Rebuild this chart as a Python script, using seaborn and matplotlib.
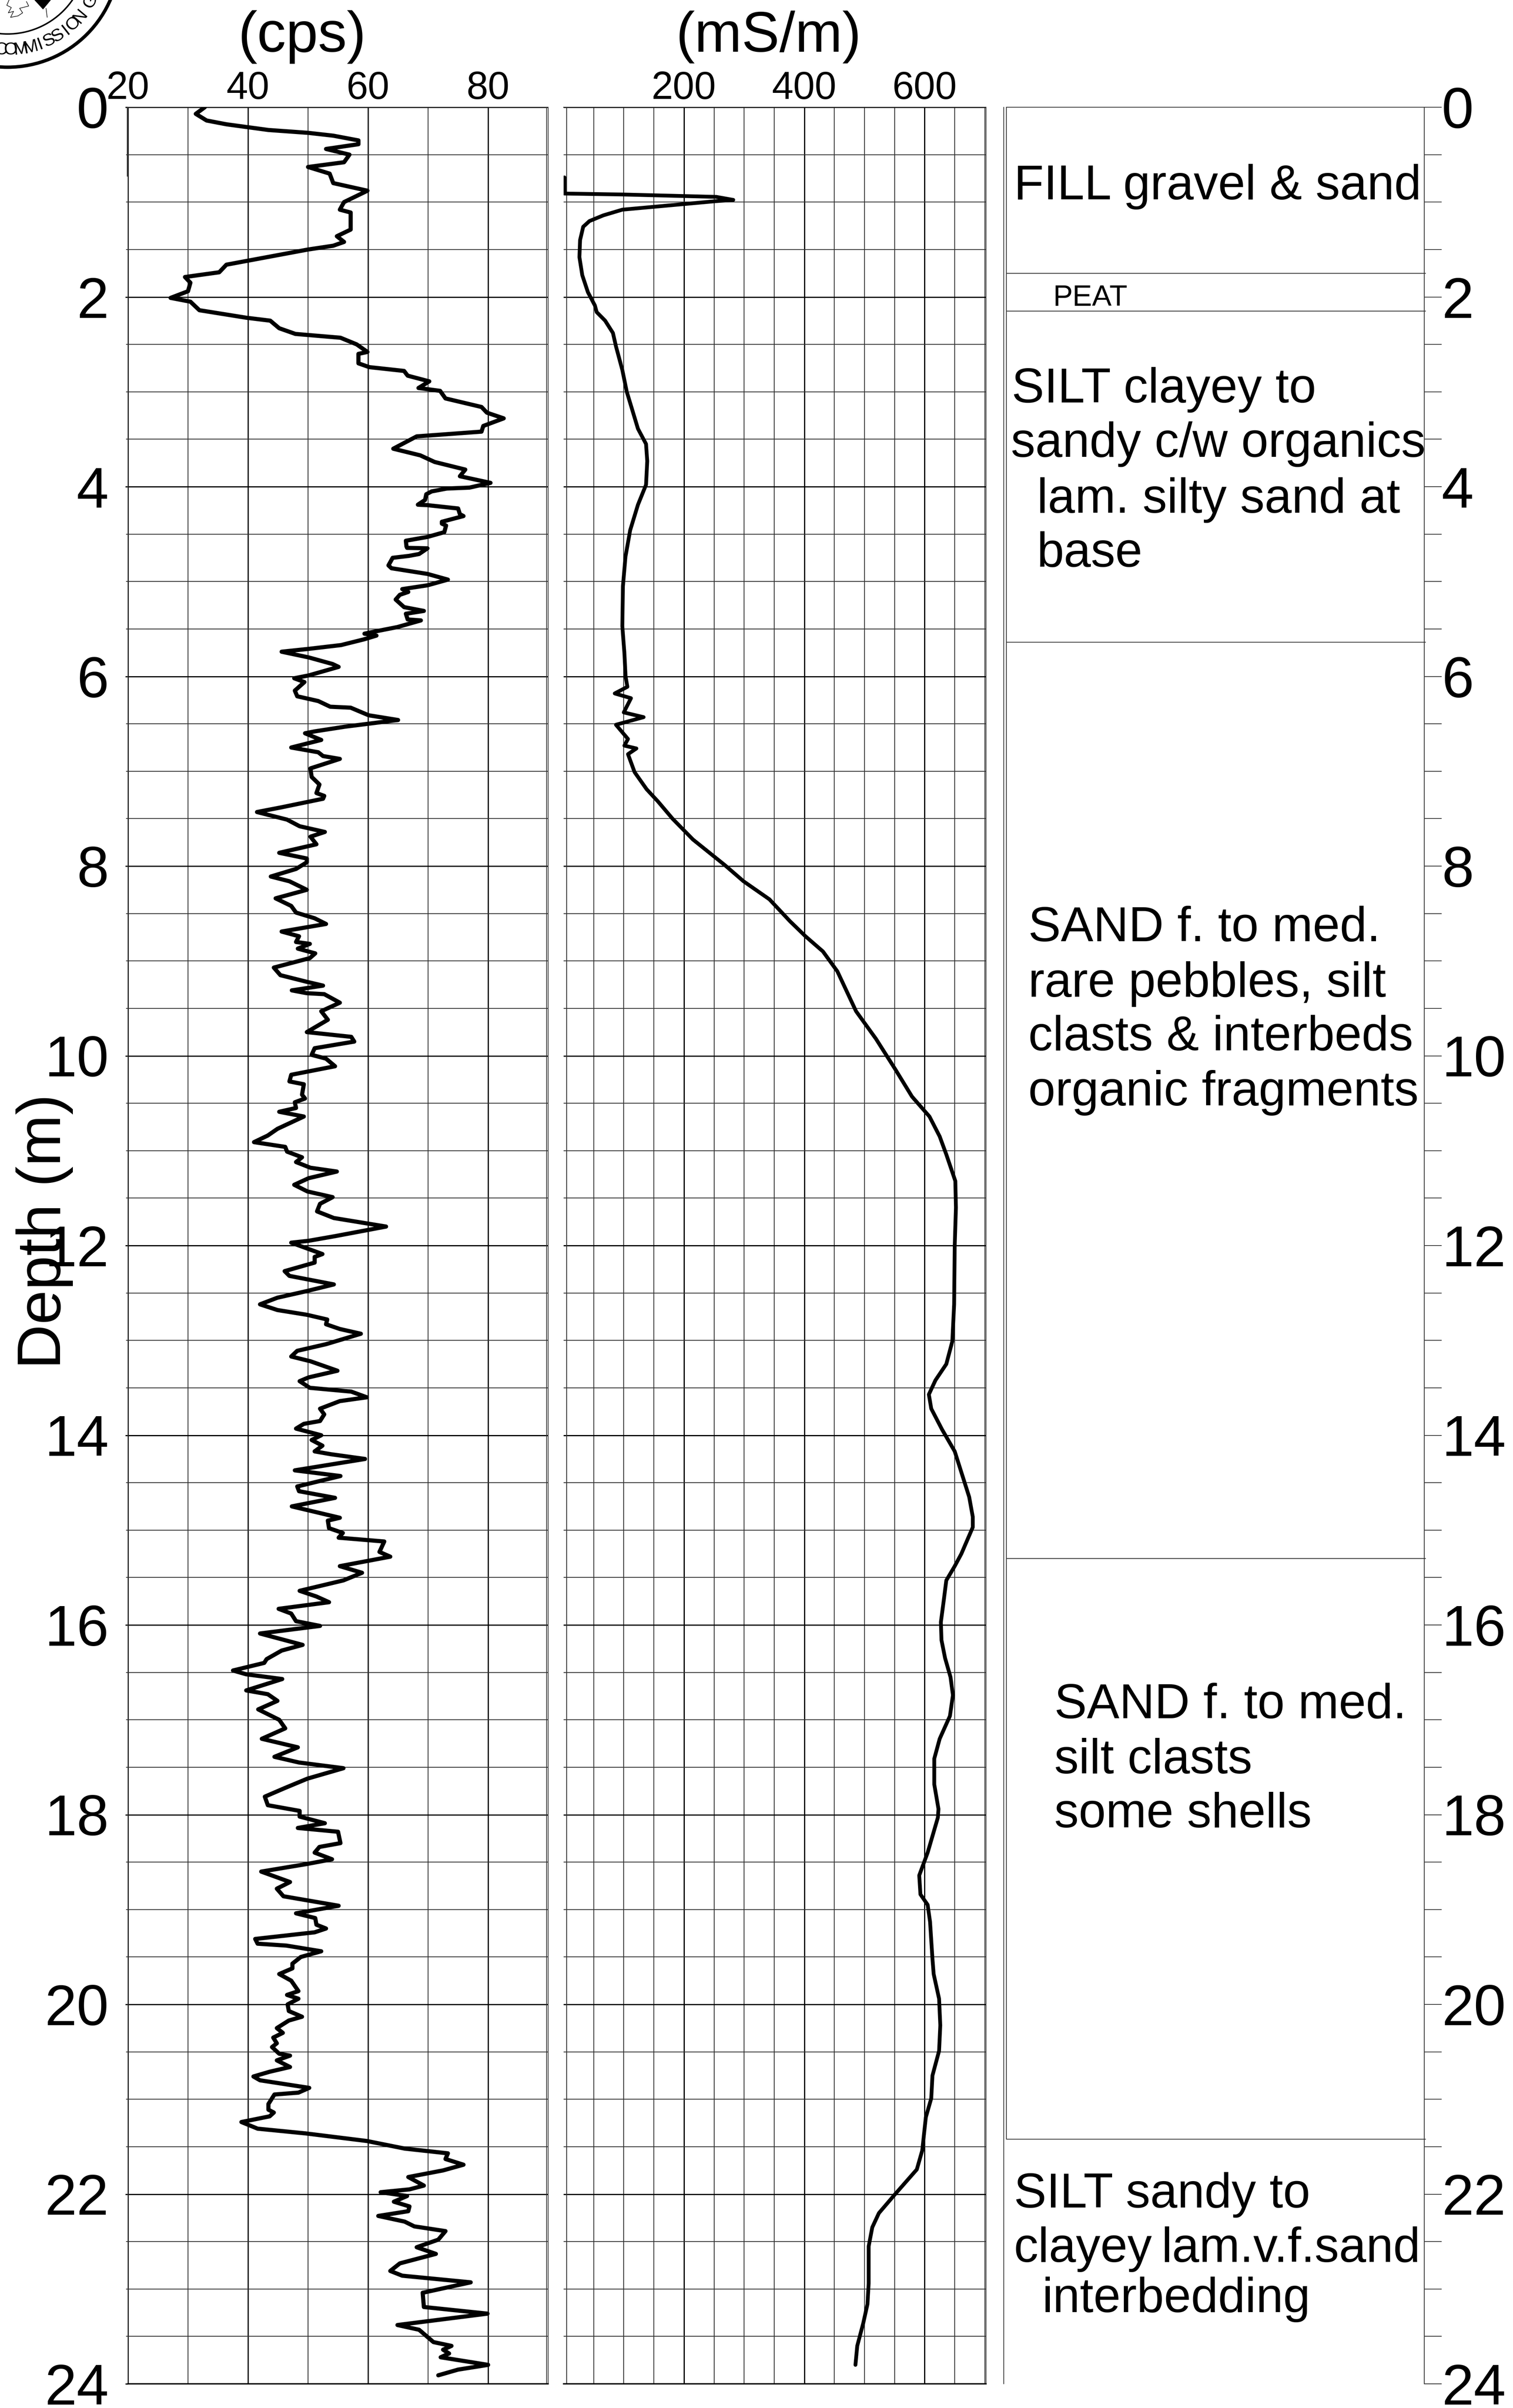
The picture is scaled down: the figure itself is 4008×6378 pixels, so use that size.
import numpy as np
import matplotlib
matplotlib.use("Agg")
import matplotlib.pyplot as plt
from matplotlib.patches import Circle, Polygon
import seaborn as sns

# borehole log, values: (depth m, reading)
gamma_points = [
    (0, 32.8), (0.07, 31.3), (0.14, 33.1), (0.18, 36.4), (0.24, 43.4), (0.27, 50), (0.30, 54.2),
    (0.35, 58.4), (0.39, 58.4), (0.44, 53), (0.50, 56.9), (0.58, 56), (0.63, 50), (0.70, 53.6),
    (0.80, 54.2), (0.88, 59.9), (1.0, 56), (1.08, 55.3), (1.11, 57.1), (1.29, 57.1), (1.36, 54.8),
    (1.42, 56), (1.46, 54.2), (1.5, 50), (1.62, 39.8), (1.66, 36.4), (1.74, 35.2), (1.79, 29.5),
    (1.85, 30.4), (1.94, 30), (2.01, 27.1), (2.05, 30.4), (2.14, 31.9), (2.22, 39.8), (2.25, 43.7),
    (2.33, 45.2), (2.39, 47.9), (2.43, 55.4), (2.5, 58.1), (2.58, 59.9), (2.60, 58.4), (2.70, 58.4),
    (2.74, 60.2), (2.78, 66), (2.83, 66.6), (2.89, 70.2), (2.96, 68.4), (2.99, 72), (3.07, 72.9),
    (3.16, 78.9), (3.22, 79.8), (3.28, 82.6), (3.36, 79.2), (3.42, 78.9), (3.47, 68.1), (3.60, 64.2),
    (3.67, 68.7), (3.74, 71.1), (3.82, 76.2), (3.89, 75.3), (3.96, 80.4), (4.01, 76.9), (4.02, 73.1),
    (4.05, 70.6), (4.08, 69.7), (4.14, 69.5), (4.19, 68.3), (4.195, 69.9), (4.23, 75), (4.29, 75.3),
    (4.31, 75.9), (4.37, 72.3), (4.39, 72.3), (4.41, 73), (4.48, 72.7), (4.53, 69.9), (4.57, 66.3),
    (4.63, 66.4), (4.645, 66.5), (4.65, 69.9), (4.71, 68.5), (4.73, 66.8), (4.75, 64.1), (4.83, 63.4),
    (4.86, 63.9), (4.92, 69.9), (4.98, 73.3), (5.04, 69.9), (5.08, 65.7), (5.11, 66.7), (5.14, 65.3),
    (5.19, 64.6), (5.27, 66), (5.31, 69.3), (5.34, 66.3), (5.40, 66.6), (5.41, 68.8), (5.48, 64.9),
    (5.53, 60.9), (5.55, 59.4), (5.57, 61.4), (5.61, 59.3), (5.67, 55.5), (5.71, 50.1), (5.74, 45.6),
    (5.80, 50.1), (5.87, 54.1), (5.90, 55.1), (5.99, 50.1), (6.02, 47.7), (6.06, 49.4), (6.15, 47.8),
    (6.21, 48.2), (6.26, 51.7), (6.32, 53.7), (6.33, 57.1), (6.41, 60.1), (6.46, 65), (6.53, 56.2),
    (6.58, 51.1), (6.60, 49.5), (6.67, 52.2), (6.75, 47.2), (6.80, 51.7), (6.84, 52.5), (6.87, 55.3),
    (6.97, 50.4), (7.06, 50.6), (7.14, 51.9), (7.23, 51.4), (7.26, 52.7), (7.29, 52.5), (7.38, 45.6),
    (7.43, 41.5), (7.51, 46.5), (7.58, 48.6), (7.64, 52.8), (7.69, 50.4), (7.77, 51.4), (7.86, 45.2),
    (7.92, 49.8), (7.96, 49.8), (8.03, 48), (8.11, 43.8), (8.16, 46.9), (8.25, 49.8), (8.34, 44.6),
    (8.42, 47.2), (8.49, 48), (8.55, 51.1), (8.61, 53), (8.69, 45.6), (8.74, 48.5), (8.80, 48),
    (8.82, 50.3), (8.87, 48.3), (8.92, 51.2), (8.97, 50.3), (9.07, 44.3), (9.15, 45.4), (9.22, 49.8),
    (9.26, 52.5), (9.31, 47.3), (9.34, 49.8), (9.35, 52.7), (9.44, 55.3), (9.53, 52.2), (9.62, 53.3),
    (9.75, 49.8), (9.80, 57.2), (9.85, 57.7), (9.92, 51.1), (9.99, 50.6), (10.03, 53), (10.11, 54.5),
    (10.20, 47.2), (10.27, 46.9), (10.30, 49.3), (10.41, 49), (10.45, 49.5), (10.49, 47.8), (10.55, 48),
    (10.59, 45.2), (10.64, 49.3), (10.77, 44.9), (10.84, 43.3), (10.91, 41), (10.96, 46.2), (11.01, 46.5),
    (11.07, 49), (11.12, 48), (11.18, 50.4), (11.22, 54.8), (11.29, 50.1), (11.36, 47.7), (11.43, 49.9),
    (11.49, 54.1), (11.56, 52), (11.64, 51.5), (11.71, 54.3), (11.80, 63), (11.90, 54.6), (11.95, 50.1),
    (11.97, 47.2), (12.03, 49.8), (12.09, 52.4), (12.12, 51.1), (12.18, 51.1), (12.27, 46.1), (12.32, 46.9),
    (12.41, 54.3), (12.48, 49.8), (12.55, 44.9), (12.62, 42), (12.68, 44.9), (12.73, 49.8), (12.78, 53.2),
    (12.83, 53), (12.88, 55.3), (12.93, 58.8), (13.04, 53), (13.11, 48.2), (13.17, 47.2), (13.22, 50.4),
    (13.32, 54.9), (13.39, 50.1), (13.43, 48.6), (13.50, 50.3), (13.54, 57.2), (13.60, 59.8), (13.64, 55.3),
    (13.72, 52), (13.78, 52.7), (13.85, 52), (13.88, 49.3), (13.93, 48), (14.00, 52.2), (14.05, 50.6),
    (14.11, 52.4), (14.17, 51.1), (14.20, 53.8), (14.25, 59.5), (14.37, 47.8), (14.43, 55.4), (14.54, 48.2),
    (14.59, 48.5), (14.66, 54.5), (14.75, 47.3), (14.87, 55.3), (14.90, 53.3), (14.98, 53.5), (15.03, 55.8),
    (15.08, 55.1), (15.12, 62.7), (15.23, 61.9), (15.28, 63.7), (15.38, 55.3), (15.45, 59), (15.53, 55.9),
    (15.64, 48.6), (15.70, 51.4), (15.76, 53.5), (15.83, 45.1), (15.88, 47.2), (15.96, 48), (16.01, 52),
    (16.09, 42), (16.21, 49.1), (16.27, 45.6), (16.36, 43.1), (16.40, 42.7), (16.48, 37.5), (16.52, 39.7),
    (16.57, 45.7), (16.69, 39.7), (16.73, 43.3), (16.80, 44.9), (16.89, 41.7), (17.0, 45.2), (17.09, 46.2),
    (17.2, 42.3), (17.29, 48.3), (17.39, 44.4), (17.45, 48.5), (17.51, 55.9), (17.62, 49.9), (17.72, 46.1),
    (17.81, 42.8), (17.90, 43.3), (17.96, 48.6), (18.02, 48.6), (18.09, 52.8), (18.14, 48.3), (18.18, 55),
    (18.30, 55.4), (18.34, 51.9), (18.40, 51.1), (18.47, 54), (18.52, 49.8), (18.60, 42.2), (18.71, 47),
    (18.78, 44.8), (18.86, 45.9), (18.96, 55.1), (19.04, 48), (19.09, 51.2), (19.16, 51.4), (19.20, 53),
    (19.24, 51.1), (19.31, 41.2), (19.36, 41.6), (19.38, 46.4), (19.44, 52.2), (19.50, 48.8), (19.57, 47.4),
    (19.62, 47.4), (19.68, 45.2), (19.75, 47.2), (19.86, 48.4), (19.90, 46.5), (19.94, 48.4), (20.0, 46.6),
    (20.07, 46.8), (20.13, 49), (20.17, 46.8), (20.25, 44.8), (20.30, 45.8), (20.35, 44.2), (20.41, 44.8),
    (20.45, 44), (20.52, 45.2), (20.54, 47), (20.59, 44.8), (20.66, 47), (20.71, 43.6), (20.76, 40.9),
    (20.80, 42), (20.88, 50.2), (20.93, 48.4), (20.95, 44.4), (21.05, 43.4), (21.11, 43.4), (21.14, 44.3),
    (21.18, 43.6), (21.24, 38.9), (21.31, 41.6), (21.36, 49.6), (21.44, 59.8), (21.52, 66.1), (21.57, 73.3),
    (21.63, 72.9), (21.69, 75.9), (21.75, 72.5), (21.82, 66.7), (21.91, 69.3), (21.95, 66.9), (21.98, 62.1),
    (22.02, 66.5), (22.08, 64.3), (22.13, 66.9), (22.18, 66.7), (22.23, 61.7), (22.29, 66.1), (22.34, 67.7),
    (22.39, 72.9), (22.48, 71.7), (22.56, 68.1), (22.63, 71.3), (22.73, 65.3), (22.81, 63.7), (22.86, 65.7),
    (22.93, 77.1), (23.04, 69.1), (23.19, 69.3), (23.26, 79.9), (23.38, 64.9), (23.43, 68.5), (23.56, 70.9),
    (23.60, 73.9), (23.64, 72.5), (23.68, 73.5), (23.72, 72.1), (23.80, 80), (23.85, 75), (23.91, 71.7),
]

conductivity_points = [
    (0.74, 1.4), (0.91, 1.4), (0.92, 97.6), (0.945, 253.6), (0.977, 282), (0.99, 253.6), (1.05, 149.6),
    (1.08, 97.6), (1.14, 66), (1.20, 43), (1.26, 32.6), (1.40, 27.4), (1.58, 26.3), (1.77, 31), (1.95, 40.4),
    (2.09, 52), (2.16, 55), (2.25, 69), (2.38, 82), (2.52, 87), (2.77, 97.6), (3.0, 105), (3.18, 113.6),
    (3.39, 123.6), (3.55, 137), (3.73, 139), (3.98, 137), (4.19, 123.6), (4.46, 110.6), (4.74, 102.8),
    (5.05, 98.6), (5.47, 97.6), (5.75, 101), (6.0, 103), (6.11, 106), (6.18, 85), (6.23, 112), (6.38, 100),
    (6.43, 133), (6.51, 87), (6.66, 107), (6.73, 101), (6.76, 121), (6.82, 107), (7.01, 118), (7.19, 138),
    (7.32, 157), (7.5, 181), (7.72, 215), (7.99, 268), (8.16, 299), (8.35, 342), (8.58, 376), (8.74, 402),
    (8.9, 431), (9.11, 455), (9.53, 486), (9.82, 519), (10.14, 551), (10.43, 579), (10.64, 608), (10.85, 625),
    (11.04, 636), (11.32, 651), (11.6, 652), (12.0, 650), (12.62, 649), (13.01, 646), (13.25, 636), (13.42, 618),
    (13.57, 607), (13.72, 611), (13.94, 629), (14.17, 650), (14.43, 663), (14.65, 674), (14.86, 680), (14.97, 680),
    (15.25, 661), (15.38, 650), (15.53, 636), (15.73, 632), (15.97, 627), (16.16, 628), (16.35, 634), (16.55, 643),
    (16.74, 647), (16.96, 642), (17.2, 625), (17.41, 616), (17.68, 616), (17.94, 623), (18.03, 622), (18.4, 605),
    (18.64, 591), (18.84, 593), (18.95, 605), (19.13, 609), (19.52, 613), (19.68, 615), (19.94, 624), (20.22, 626),
    (20.49, 624), (20.75, 613), (20.99, 611), (21.19, 602), (21.54, 596), (21.74, 587), (22.0, 551), (22.2, 524),
    (22.35, 513), (22.55, 507), (22.94, 507), (23.16, 505), (23.36, 498), (23.6, 488), (23.8, 485),
]

gamma_depth, gamma_cps = map(np.array, zip(*gamma_points))
cond_depth, cond_ms = map(np.array, zip(*conductivity_points))

layer_breaks = [1.75, 2.15, 5.64, 15.3, 21.42]
depth_ticks = list(range(0, 25, 2))
gamma_ticks = [20, 40, 60, 80]
cond_ticks = [200, 400, 600]

layer_text = [
    "FILL gravel & sand", "PEAT", "SILT clayey to", "sandy c/w organics", "lam. silty sand at", "base",
    "SAND f. to med.", "rare pebbles, silt", "clasts & interbeds", "organic fragments",
    "SAND f. to med.", "silt clasts", "some shells",
    "SILT sandy to", "clayey", "lam.v.f.sand", "interbedding",
]
# left edge and baseline in pixels, same order as layer_text
layer_text_pos = [
    (2686, 528), (2790, 810), (2680, 1066), (2678, 1210), (2747, 1358), (2747, 1501),
    (2724, 2493), (2724, 2640), (2724, 2782), (2724, 2928),
    (2793, 4551), (2793, 4697), (2793, 4840),
    (2686, 5847), (2686, 5991), (3076, 5991), (2760, 6124),
]

W, H = 4008, 6378
PX = 72 / 100  # one pixel in points at dpi 100
TOP, BOTTOM = 284, 6314

sns.set_theme(style="white")
plt.rcParams["font.family"] = ["Liberation Sans", "DejaVu Sans"]
plt.rcParams["text.color"] = "black"
plt.rcParams["xtick.labelcolor"] = "black"
plt.rcParams["ytick.labelcolor"] = "black"

fig = plt.figure(figsize=(W / 100, H / 100), dpi=100)


def track(x0, x1):
    return fig.add_axes([x0 / W, 1 - BOTTOM / H, (x1 - x0) / W, (BOTTOM - TOP) / H])


def style_grid(ax, minor_x):
    ax.set_ylim(24, 0)
    ax.set_yticks(depth_ticks)
    ax.set_yticks(np.arange(0, 24.5, 0.5), minor=True)
    ax.set_xticks(minor_x, minor=True)
    ax.grid(which="major", color="black", lw=3.2 * PX)
    ax.grid(which="minor", color="#333333", lw=2.2 * PX)
    ax.set_axisbelow(True)
    ax.xaxis.tick_top()
    ax.tick_params(axis="x", which="both", length=0, pad=0, labelsize=74)
    ax.set_xlabel("")
    ax.set_ylabel("")
    for side in ["left", "right", "top"]:
        ax.spines[side].set_linewidth(2 * PX)
        ax.spines[side].set_color("#333333")
    ax.spines["bottom"].set_linewidth(3.5 * PX)
    ax.spines["bottom"].set_color("black")


# gamma track
ax1 = track(339, 1452)
sns.lineplot(x=gamma_cps, y=gamma_depth, sort=False, estimator=None, color="black",
             linewidth=11 * PX, solid_joinstyle="round", ax=ax1, zorder=5)
ax1.set_xlim(20, 90)
ax1.set_xticks(gamma_ticks)
style_grid(ax1, [30, 50, 70])
ax1.axvline(89.75, color="#333333", lw=2 * PX)
ax1.plot([19.87, 19.87], [0, 0.73], color="#333333", lw=2 * PX, clip_on=False)
ax1.yaxis.tick_left()
ax1.tick_params(axis="y", which="major", length=7 * PX, width=3.2 * PX, pad=44 * PX,
                labelsize=110, left=True, color="black")
ax1.tick_params(axis="y", which="minor", length=5 * PX, width=2.2 * PX, left=True, color="#333333")

# conductivity track
ax2 = track(1493, 2612)
sns.lineplot(x=cond_ms, y=cond_depth, sort=False, estimator=None, color="black",
             linewidth=10 * PX, solid_joinstyle="round", ax=ax2, zorder=5)
ax2.set_xlim(0, 702)
ax2.set_xticks(cond_ticks)
style_grid(ax2, [50, 100, 150, 250, 300, 350, 450, 500, 550, 650, 700])
ax2.axvline(5, color="#333333", lw=2.2 * PX)
ax2.spines["left"].set_visible(False)
ax2.tick_params(axis="y", which="both", length=0, labelleft=False)

# lithology column
ax3 = track(2666, 3773)
ax3.set_xlim(0, 1)
ax3.set_ylim(24, 0)
ax3.set_xticks([])
ax3.hlines(layer_breaks, 0, 1.004, color="#333333", lw=2 * PX, clip_on=False)
ax3.spines["bottom"].set_visible(False)
ax3.spines["left"].set_visible(False)
ax3.plot([0, 0], [0, layer_breaks[-1]], color="#333333", lw=2 * PX, clip_on=False)
ax3.plot([-0.0065, -0.0065], [0, 24], color="#333333", lw=2 * PX, clip_on=False)
ax3.spines["right"].set_linewidth(2 * PX)
ax3.spines["right"].set_color("#333333")
ax3.spines["top"].set_linewidth(2 * PX)
ax3.spines["top"].set_color("#333333")
ax3.yaxis.tick_right()
ax3.set_yticks(depth_ticks)
ax3.set_yticks(np.arange(0, 24.5, 0.5), minor=True)
ax3.tick_params(axis="y", which="both", right=True, length=46 * PX, width=2 * PX,
                color="#333333", pad=0, labelsize=110)

# free text and the emblem, placed in pixels
over = fig.add_axes([0, 0, 1, 1], zorder=10)
over.set_xlim(0, W)
over.set_ylim(H, 0)
over.axis("off")
over.patch.set_alpha(0)

over.text(800, 137, "(cps)", fontsize=110, ha="center", va="baseline", color="black")
over.text(2036, 137, "(mS/m)", fontsize=108, ha="center", va="baseline", color="black")
over.text(118, 3262, "Depth (m)", fontsize=118, rotation=90, ha="center", va="center", color="black")

for label, (tx, ty) in zip(layer_text, layer_text_pos):
    size = 56 if label == "PEAT" else 93
    over.text(tx, ty, label, fontsize=size, ha="left", va="baseline", color="black")

cx, cy = 20, -119
over.add_patch(Circle((cx, cy), 297, fill=False, ec="black", lw=9 * PX))
over.add_patch(Circle((cx, cy), 209, fill=False, ec="black", lw=4 * PX))
for ch, ang in zip("COMMISSION", np.linspace(94, 40, 10)):
    t = np.radians(ang)
    over.text(cx + 252 * np.cos(t), cy + 252 * np.sin(t), ch, fontsize=34, rotation=90 - ang,
              rotation_mode="anchor", ha="center", va="center", color="black")
t = np.radians(29)
over.text(cx + 252 * np.cos(t), cy + 252 * np.sin(t), "G", fontsize=34, rotation=61,
          rotation_mode="anchor", ha="center", va="center", color="black")
over.add_patch(Polygon([(92, 0), (134, 0), (114, 24)], closed=True, color="black"))
over.plot([122, 125], [22, 46], color="black", lw=1.5 * PX)
over.plot([24, 18, 30, 22, 36, 28, 48, 60, 52, 76, 70], [0, 14, 20, 34, 30, 46, 42, 34, 22, 16, 4],
          color="black", lw=1.5 * PX)

fig.savefig("out.png", dpi=100, facecolor="white")
